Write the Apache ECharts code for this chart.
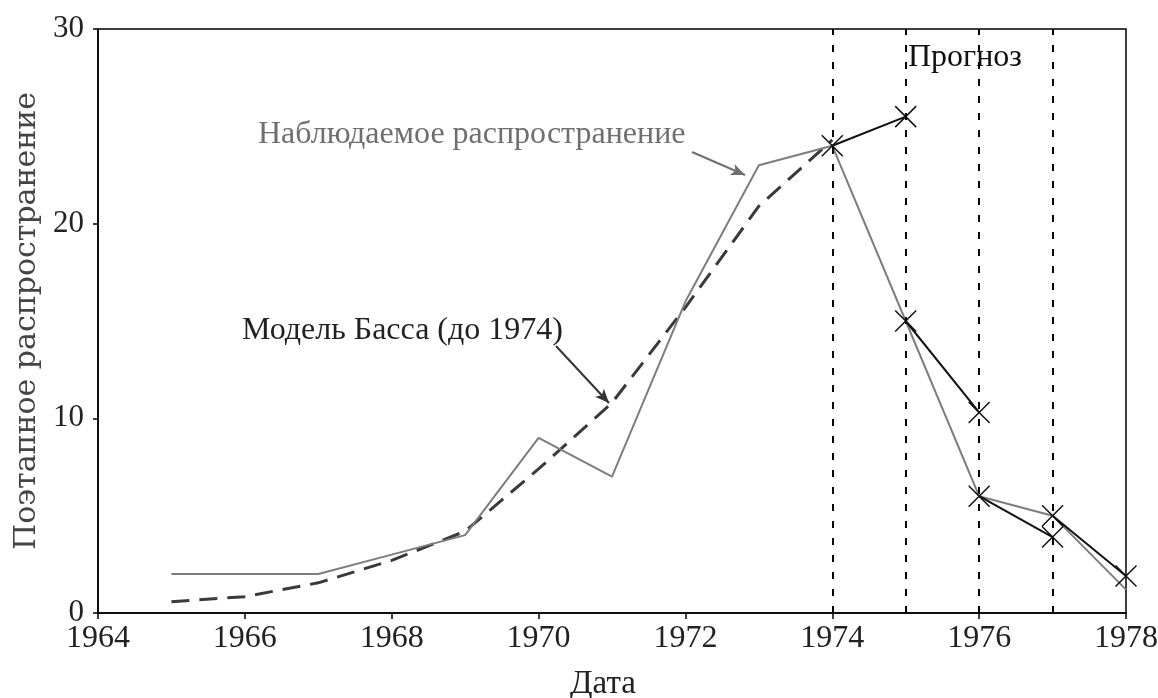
<!DOCTYPE html>
<html>
<head>
<meta charset="utf-8">
<script src="https://cdn.jsdelivr.net/npm/echarts@6/dist/echarts.min.js"></script>
<style>
  html, body { margin: 0; padding: 0; background: #fff; }
  #chart { width: 1158px; height: 698px; }
</style>
</head>
<body>
<div id="chart"></div>
<script>
// годы и значения
var years = [1965, 1966, 1967, 1968, 1969, 1970, 1971, 1972, 1973, 1974, 1975, 1976, 1977, 1978];
var observed = [2, 2, 2, 3, 4, 9, 7, 16, 23, 24, 15, 6, 5, 1.2];

var bassYears = [1965, 1966, 1967, 1968, 1969, 1970, 1971, 1972, 1973, 1974];
var bassModel = [0.58, 0.84, 1.55, 2.7, 4.2, 7.4, 10.8, 15.7, 20.9, 24.3];

// прогнозы на шаг вперёд: [год, значение] начало и конец
var forecasts = [
  [[1974, 24], [1975, 25.5]],
  [[1975, 15], [1976, 10.3]],
  [[1976, 6], [1977, 3.9]],
  [[1977, 5], [1978, 1.9]]
];

var forecastYears = [1974, 1975, 1976, 1977];

var FONT = '"Liberation Serif", "DejaVu Serif", serif';
var crossSymbol = 'path://M0,0L10,10M10,0L0,10';

var chart = echarts.init(document.getElementById('chart'));

var series = [
  {
    name: 'observed',
    type: 'line',
    data: years.map(function (y, i) { return [y, observed[i]]; }),
    showSymbol: false,
    lineStyle: { color: '#7d7d7d', width: 2 },
    z: 3,
    markLine: {
      silent: true,
      symbol: 'none',
      label: { show: false },
      lineStyle: { color: '#000', width: 2, type: [7, 10] },
      data: forecastYears.map(function (y) { return { xAxis: y }; })
    }
  },
  {
    name: 'bass',
    type: 'line',
    data: bassYears.map(function (y, i) { return [y, bassModel[i]]; }),
    showSymbol: false,
    lineStyle: { color: '#3a3a3a', width: 3, type: [18, 10] },
    z: 2
  }
];

forecasts.forEach(function (f, i) {
  series.push({
    name: 'forecast' + i,
    type: 'line',
    data: f,
    symbol: crossSymbol,
    symbolSize: 21,
    lineStyle: { color: '#111', width: 2 },
    itemStyle: { color: '#111', borderColor: '#111', borderWidth: 1.5 },
    z: 4
  });
});

// стрелки-выноски
series.push({
  type: 'line',
  data: [],
  markLine: {
    silent: true,
    symbol: ['none', 'arrow'],
    symbolSize: [9, 14],
    label: { show: false },
    data: [
      [{ x: 692, y: 152, lineStyle: { color: '#6f6f6f', width: 2, type: 'solid' } }, { x: 745, y: 175 }],
      [{ x: 556, y: 346, lineStyle: { color: '#333', width: 2, type: 'solid' } }, { x: 609, y: 403 }]
    ]
  }
});

var option = {
  animation: false,
  backgroundColor: '#fff',
  grid: {
    left: 98,
    right: 32,
    top: 29,
    bottom: 85,
    containLabel: false,
    outerBoundsMode: 'none',
    show: true,
    borderColor: '#000',
    borderWidth: 1.5
  },
  xAxis: {
    type: 'value',
    min: 1964,
    max: 1978,
    interval: 2,
    name: 'Дата',
    nameLocation: 'middle',
    nameGap: 55,
    nameTextStyle: { fontFamily: FONT, fontSize: 33, color: '#222', padding: [0, 18, 0, 0] },
    axisLine: { lineStyle: { color: '#000', width: 1.5 } },
    axisTick: { show: true, length: 6, lineStyle: { color: '#000', width: 1.5 } },
    axisLabel: {
      fontFamily: FONT, fontSize: 32, color: '#222', margin: 10,
      formatter: function (v) { return String(v); }
    },
    splitLine: { show: false }
  },
  yAxis: {
    type: 'value',
    min: 0,
    max: 30,
    interval: 10,
    name: 'Поэтапное распространение',
    nameLocation: 'middle',
    nameGap: 56,
    nameTextStyle: { fontFamily: '"DejaVu Serif", serif', fontSize: 30, color: '#444' },
    axisLine: { show: true, lineStyle: { color: '#000', width: 1.5 } },
    axisTick: { show: true, length: 5, lineStyle: { color: '#000', width: 1.5 } },
    axisLabel: { fontFamily: FONT, fontSize: 31, color: '#222', margin: 14 },
    splitLine: { show: false }
  },
  graphic: [
    {
      type: 'text', left: 258, top: 119, silent: true,
      style: { text: 'Наблюдаемое распространение', font: '32px ' + FONT, fill: '#6f6f6f' }
    },
    {
      type: 'text', left: 242, top: 315, silent: true,
      style: { text: 'Модель Басса (до 1974)', font: '32px ' + FONT, fill: '#222' }
    },
    {
      type: 'text', left: 908, top: 42, silent: true,
      style: { text: 'Прогноз', font: '32px ' + FONT, fill: '#111' }
    }
  ],
  series: series
};

chart.setOption(option);
</script>
</body>
</html>
